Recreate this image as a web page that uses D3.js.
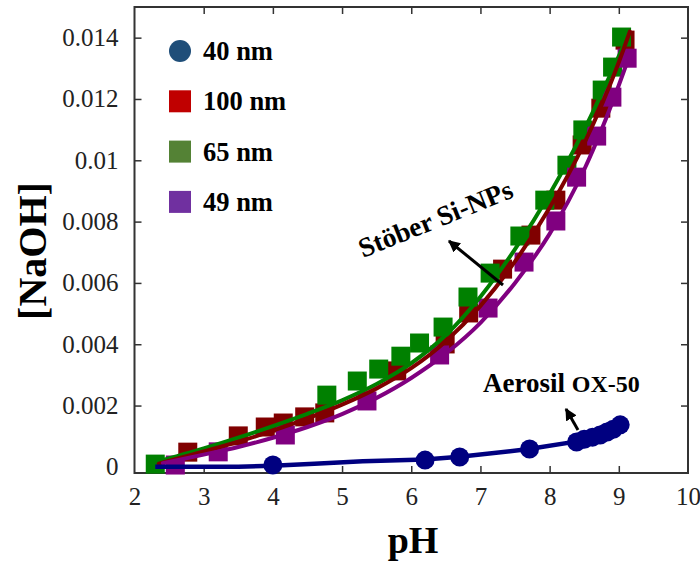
<!DOCTYPE html>
<html>
<head>
<meta charset="utf-8">
<script src="https://cdn.jsdelivr.net/npm/d3@7"></script>
<style>
  html, body { margin: 0; padding: 0; background: #fff; }
  svg { display: block; }
  .tick text { font-family: "Liberation Serif", "Times New Roman", serif; font-size: 25px; fill: #222; }
</style>
</head>
<body>
<svg id="chart" width="700" height="563"></svg>
<script>
// Titration data: [NaOH] consumed versus pH for silica nanoparticles
const pH65 = [2.30, 4.78, 5.22, 5.53, 5.85, 6.12, 6.46, 6.82, 7.14, 7.57, 7.93, 8.25, 8.48, 8.76, 8.91, 9.04];
const naoh65 = [0.00009, 0.00234, 0.00280, 0.00319, 0.00361, 0.00404, 0.00456, 0.00554, 0.00632, 0.00753, 0.00870, 0.00984, 0.01099, 0.01229, 0.01304, 0.01402];

const pH100 = [2.77, 3.50, 3.89, 4.15, 4.46, 4.75, 5.79, 6.49, 6.83, 7.32, 7.73, 8.09, 8.47, 8.74, 9.09];
const naoh100 = [0.00048, 0.00101, 0.00130, 0.00143, 0.00163, 0.00176, 0.00313, 0.00401, 0.00502, 0.00645, 0.00756, 0.00870, 0.01050, 0.01170, 0.01392];

const pH49 = [2.59, 3.21, 4.18, 5.36, 6.41, 7.11, 7.63, 8.09, 8.39, 8.68, 8.90, 9.12];
const naoh49 = [0.00006, 0.00049, 0.00104, 0.00215, 0.00365, 0.00518, 0.00668, 0.00802, 0.00945, 0.01079, 0.01206, 0.01333];

const pH40 = [4.00, 6.20, 6.70, 7.71, 8.39, 8.50, 8.62, 8.73, 8.83, 8.92, 9.02];
const naoh40 = [0.00006, 0.00022, 0.00032, 0.00058, 0.00081, 0.00090, 0.00097, 0.00104, 0.00114, 0.00123, 0.00137];

// Fitted curves
const fitPH65 = [2.30, 3.0, 3.5, 4.0, 4.5, 5.0, 5.5, 6.0, 6.5, 7.0, 7.5, 8.0, 8.5, 9.0, 9.13];
const fit65 = [0.00015, 0.00060, 0.00095, 0.00133, 0.00173, 0.00217, 0.00270, 0.00338, 0.00430, 0.00555, 0.00710, 0.00890, 0.01100, 0.01340, 0.01405];

const fitPH100 = [2.35, 3.0, 3.5, 4.0, 4.5, 5.0, 5.5, 6.0, 6.5, 7.0, 7.5, 8.0, 8.5, 9.0, 9.16];
const fit100 = [0.00010, 0.00050, 0.00082, 0.00118, 0.00158, 0.00203, 0.00256, 0.00322, 0.00410, 0.00525, 0.00670, 0.00845, 0.01055, 0.01320, 0.01420];

const fitPH49 = [2.41, 3.0, 3.5, 4.0, 4.5, 5.0, 5.5, 6.0, 6.5, 7.0, 7.5, 8.0, 8.5, 9.0, 9.16];
const fit49 = [0.00012, 0.00040, 0.00065, 0.00095, 0.00130, 0.00172, 0.00225, 0.00290, 0.00370, 0.00470, 0.00600, 0.00760, 0.00970, 0.01245, 0.01345];

const fitPH40 = [2.30, 3.5, 4.0, 4.6, 5.3, 6.2, 6.7, 7.7, 8.4, 9.02];
const fit40 = [0.00000, 0.00000, 0.00004, 0.00010, 0.00018, 0.00024, 0.00033, 0.00058, 0.00083, 0.00137];

const xTicks = [2, 3, 4, 5, 6, 7, 8, 9, 10];
const yTicks = [0, 0.002, 0.004, 0.006, 0.008, 0.01, 0.012, 0.014];

const legendLabels = ["40 nm", "100 nm", "65 nm", "49 nm"];
const legendColors = ["#1f4e79", "#c00000", "#548235", "#7030a0"];

const svg = d3.select("#chart");
const x = d3.scaleLinear().domain([2, 10]).range([134.5, 688]);
const y = d3.scaleLinear().domain([-0.0002, 0.015]).range([473, 7]);
const serif = '"Liberation Serif", "Times New Roman", serif';

// Axes with inward ticks on all four sides
const fmtY = d => d === 0 ? "0" : d3.format("~g")(d);
const gB = svg.append("g").attr("transform", "translate(0,473)")
  .call(d3.axisBottom(x).tickValues(xTicks).tickSize(-7).tickPadding(14).tickFormat(d3.format("d")));
const gT = svg.append("g").attr("transform", "translate(0,7)")
  .call(d3.axisTop(x).tickValues(xTicks).tickSize(-7).tickFormat(""));
const gL = svg.append("g").attr("transform", "translate(134.5,0)")
  .call(d3.axisLeft(y).tickValues(yTicks).tickSize(-7).tickPadding(16).tickFormat(fmtY));
const gR = svg.append("g").attr("transform", "translate(688,0)")
  .call(d3.axisRight(y).tickValues(yTicks).tickSize(-7).tickFormat(""));
[gB, gT, gL, gR].forEach(g => {
  g.select(".domain").remove();
  g.selectAll(".tick line").attr("stroke", "#333").attr("stroke-width", 1.5);
});
[gB, gT].forEach(g => g.selectAll(".tick line").filter(d => d === 2 || d === 10).remove());
[gL, gR].forEach(g => g.selectAll(".tick line").filter(d => d === 0).remove());

svg.append("rect").attr("x", x(2)).attr("y", y(0.015))
  .attr("width", x(10) - x(2)).attr("height", y(-0.0002) - y(0.015))
  .attr("fill", "none").attr("stroke", "#333").attr("stroke-width", 2);

// Axis titles
svg.append("text").attr("x", 413).attr("y", 553).attr("text-anchor", "middle")
  .attr("font-family", serif).attr("font-weight", "bold").attr("font-size", 38).text("pH");
svg.append("text").attr("transform", "translate(46,251) rotate(-90)").attr("text-anchor", "middle")
  .attr("font-family", serif).attr("font-weight", "bold").attr("font-size", 40).text("[NaOH]");

const zip = (a, b) => a.map((v, i) => [v, b[i]]);
const sq = 19;
function squares(px, py, color) {
  svg.append("g").selectAll("rect").data(zip(px, py)).join("rect")
    .attr("x", d => x(d[0]) - sq / 2).attr("y", d => y(d[1]) - sq / 2)
    .attr("width", sq).attr("height", sq).attr("fill", color);
}
const line = d3.line().x(d => x(d[0])).y(d => y(d[1])).curve(d3.curveMonotoneX);
function curve(px, py, color) {
  svg.append("path").datum(zip(px, py)).attr("d", line)
    .attr("fill", "none").attr("stroke", color).attr("stroke-width", 4).attr("stroke-linecap", "round");
}

squares(pH100, naoh100, "#800000");
squares(pH65, naoh65, "#008000");
squares(pH49, naoh49, "#800080");
curve(fitPH65, fit65, "#008000");
curve(fitPH100, fit100, "#800000");
curve(fitPH49, fit49, "#800080");

// Aerosil OX-50 series
svg.append("path").datum(zip(fitPH40, fit40))
  .attr("d", d3.line().x(d => x(d[0])).y(d => y(d[1])))
  .attr("fill", "none").attr("stroke", "#000080").attr("stroke-width", 4.5);
svg.append("g").selectAll("circle").data(zip(pH40, naoh40)).join("circle")
  .attr("cx", d => x(d[0])).attr("cy", d => y(d[1])).attr("r", 9.5).attr("fill", "#000080");

// Legend
const lg = svg.append("g");
legendLabels.forEach((t, i) => {
  const cy = 51 + i * 50.3;
  if (i === 0) {
    lg.append("circle").attr("cx", 180).attr("cy", cy).attr("r", 11).attr("fill", legendColors[i]);
  } else {
    lg.append("rect").attr("x", 169).attr("y", cy - 11).attr("width", 22).attr("height", 22).attr("fill", legendColors[i]);
  }
  lg.append("text").attr("x", 203).attr("y", cy + 9).attr("font-family", serif)
    .attr("font-weight", "bold").attr("font-size", 26.5).text(t);
});

// Annotations with arrows
svg.append("defs").append("marker").attr("id", "head").attr("viewBox", "0 0 10 10")
  .attr("refX", 9).attr("refY", 5).attr("markerWidth", 4).attr("markerHeight", 4)
  .attr("orient", "auto").append("path").attr("d", "M0,0L10,5L0,10z").attr("fill", "#000");

svg.append("text").attr("transform", "translate(363,258) rotate(-22)")
  .attr("font-family", serif).attr("font-weight", "bold").attr("font-size", 27.5).text("Stöber Si-NPs");
svg.append("line").attr("x1", 503).attr("y1", 285).attr("x2", 449).attr("y2", 241)
  .attr("stroke", "#000").attr("stroke-width", 3).attr("marker-end", "url(#head)");

const ae = svg.append("text").attr("x", 483).attr("y", 392).attr("font-family", serif).attr("font-weight", "bold");
ae.append("tspan").attr("font-size", 27).text("Aerosil ");
ae.append("tspan").attr("font-size", 24).text("OX-50");
svg.append("line").attr("x1", 578).attr("y1", 430).attr("x2", 566).attr("y2", 409)
  .attr("stroke", "#000").attr("stroke-width", 3).attr("marker-end", "url(#head)");
</script>
</body>
</html>
